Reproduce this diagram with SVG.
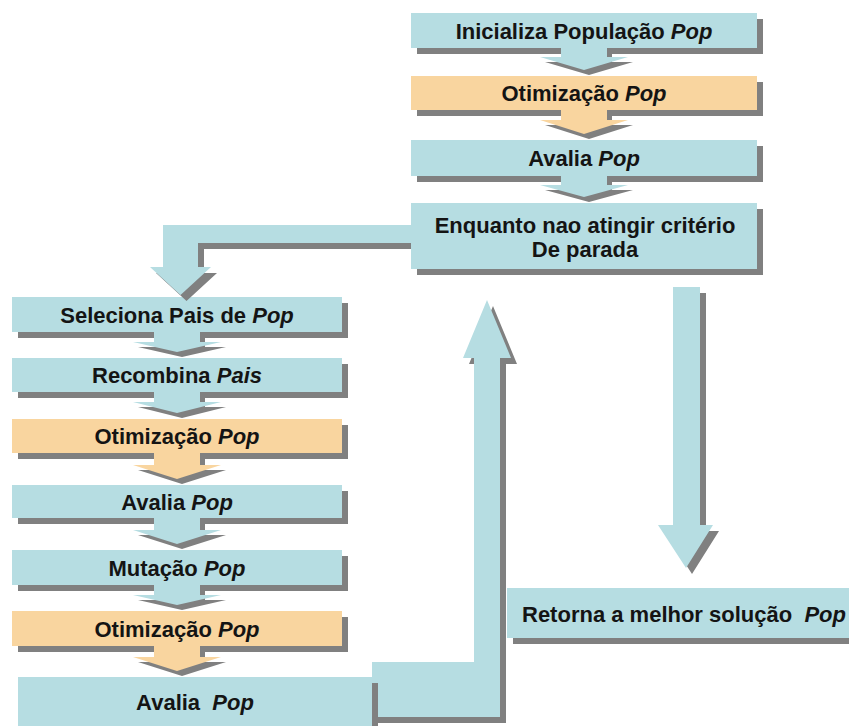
<svg xmlns="http://www.w3.org/2000/svg" width="849" height="726" viewBox="0 0 849 726">
<style>
.blue{fill:#b6dde2}
.peach{fill:#f9d59f}
.sh{fill:#808080}
.t{font-family:"Liberation Sans",Arial,sans-serif;font-weight:bold;font-size:22px;fill:#141414;text-anchor:middle;white-space:pre}
.i{font-style:italic}
</style>
<rect width="849" height="726" fill="#ffffff"/>

<!-- top column -->
<g id="n-inicializa">
<rect class="sh" x="417" y="19" width="346" height="35"/>
<rect class="blue" x="411" y="13" width="346" height="35"/>
<text class="t" x="584" y="39">Inicializa População <tspan class="i">Pop</tspan></text>
</g>
<g id="n-otimiza1">
<rect class="sh" x="417" y="82" width="346" height="34"/>
<rect class="peach" x="411" y="76" width="346" height="34"/>
<text class="t" x="584" y="101">Otimização <tspan class="i">Pop</tspan></text>
</g>
<g id="n-avalia1">
<rect class="sh" x="417" y="146" width="346" height="36"/>
<rect class="blue" x="411" y="140" width="346" height="36"/>
<text class="t" x="584" y="166">Avalia <tspan class="i">Pop</tspan></text>
</g>
<g id="n-enquanto">
<rect class="sh" x="417" y="209" width="346" height="66"/>
<rect class="blue" x="411" y="203" width="346" height="66"/>
<text class="t" x="585" y="233">Enquanto nao atingir critério</text>
<text class="t" x="585" y="257">De parada</text>
</g>

<!-- left column -->
<g id="n-seleciona">
<rect class="sh" x="18" y="303" width="330" height="35"/>
<rect class="blue" x="12" y="297" width="330" height="35"/>
<text class="t" x="177" y="323">Seleciona Pais de <tspan class="i">Pop</tspan></text>
</g>
<g id="n-recombina">
<rect class="sh" x="18" y="364" width="330" height="34"/>
<rect class="blue" x="12" y="358" width="330" height="34"/>
<text class="t" x="177" y="383">Recombina <tspan class="i">Pais</tspan></text>
</g>
<g id="n-otimiza2">
<rect class="sh" x="18" y="425" width="330" height="34"/>
<rect class="peach" x="12" y="419" width="330" height="34"/>
<text class="t" x="177" y="444">Otimização <tspan class="i">Pop</tspan></text>
</g>
<g id="n-avalia2">
<rect class="sh" x="18" y="491" width="330" height="33"/>
<rect class="blue" x="12" y="485" width="330" height="33"/>
<text class="t" x="177" y="510">Avalia <tspan class="i">Pop</tspan></text>
</g>
<g id="n-mutacao">
<rect class="sh" x="18" y="556" width="330" height="35"/>
<rect class="blue" x="12" y="550" width="330" height="35"/>
<text class="t" x="177" y="576">Mutação <tspan class="i">Pop</tspan></text>
</g>
<g id="n-otimiza3">
<rect class="sh" x="18" y="617" width="330" height="35"/>
<rect class="peach" x="12" y="611" width="330" height="35"/>
<text class="t" x="177" y="637">Otimização <tspan class="i">Pop</tspan></text>
</g>

<g id="n-retorna">
<rect class="sh" x="513" y="594" width="342" height="50"/>
<rect class="blue" x="507" y="588" width="348" height="50"/>
<text class="t" x="522" y="622" style="text-anchor:start">Retorna a melhor solução  <tspan class="i">Pop</tspan></text>
</g>

<!-- connectors -->
<g id="connectors">
<!-- top column stacked arrows -->
<polygon class="sh" points="566,52 612,52 612,62 633,62 589,75 545,62 566,62"/>
<polygon class="blue" points="561,47 607,47 607,57 628,57 584,70 540,57 561,57"/>
<polygon class="sh" points="566,114 612,114 612,125 633,125 589,139 545,125 566,125"/>
<polygon class="peach" points="561,109 607,109 607,120 628,120 584,134 540,120 561,120"/>
<polygon class="sh" points="566,180 612,180 612,190 633,190 589,202 545,190 566,190"/>
<polygon class="blue" points="561,175 607,175 607,185 628,185 584,197 540,185 561,185"/>

<!-- left column stacked arrows -->
<polygon class="sh" points="159,336 205,336 205,347 226,347 182,357 138,347 159,347"/>
<polygon class="blue" points="154,331 200,331 200,342 221,342 177,352 133,342 154,342"/>
<polygon class="sh" points="159,396 205,396 205,407 226,407 182,418 138,407 159,407"/>
<polygon class="blue" points="154,391 200,391 200,402 221,402 177,413 133,402 154,402"/>
<polygon class="sh" points="159,457 205,457 205,470 226,470 182,484 138,470 159,470"/>
<polygon class="peach" points="154,452 200,452 200,465 221,465 177,479 133,465 154,465"/>
<polygon class="sh" points="159,522 205,522 205,535 226,535 182,549 138,535 159,535"/>
<polygon class="blue" points="154,517 200,517 200,530 221,530 177,544 133,530 154,530"/>
<polygon class="sh" points="159,589 205,589 205,600 226,600 182,610 138,600 159,600"/>
<polygon class="blue" points="154,584 200,584 200,595 221,595 177,605 133,595 154,595"/>
<polygon class="sh" points="159,650 205,650 205,662 226,662 182,676 138,662 159,662"/>
<polygon class="peach" points="154,645 200,645 200,657 221,657 177,671 133,657 154,657"/>

<!-- loop: Enquanto -> Seleciona -->
<polygon class="sh" points="411,231 169,231 169,273 156,273 186.5,301 217,273 204,273 204,249 411,249"/>
<polygon class="blue" points="412,225 163,225 163,267 150,267 180.5,295 211,267 198,267 198,243 412,243"/>

<!-- exit: Enquanto -> Retorna -->
<polygon class="sh" points="679,293 706,293 706,531 719,531 692,574 664,531 679,531"/>
<polygon class="blue" points="673,287 700,287 700,525 713,525 686,568 658,525 673,525"/>

<!-- back: Avalia -> Enquanto -->
<polygon class="sh" points="378,668 480,668 480,364 469,364 493,306 517,364 506,364 506,723 378,723"/>
<polygon class="blue" points="372,662 474,662 474,358 463,358 487,300 511,358 500,358 500,717 372,717"/>
</g>

<g id="n-avalia3">
<rect class="sh" x="24" y="683" width="354" height="50"/>
<rect class="blue" x="18" y="677" width="354" height="50"/>
<text class="t" x="195" y="710">Avalia  <tspan class="i">Pop</tspan></text>
</g>
</svg>
